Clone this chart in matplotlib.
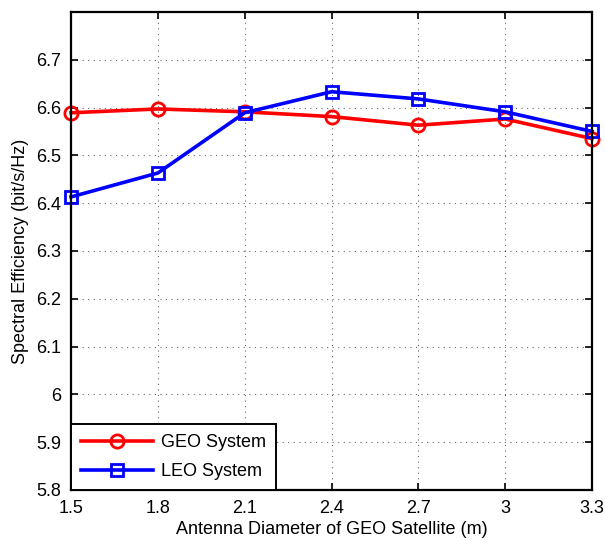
import numpy as np
import matplotlib
matplotlib.use('Agg')
import matplotlib.pyplot as plt

# antenna diameter of the GEO satellite (m)
diameters = [1.5, 1.8, 2.1, 2.4, 2.7, 3.0, 3.3]
# spectral efficiency (bit/s/Hz)
geo_eff = [6.589, 6.597, 6.591, 6.581, 6.563, 6.576, 6.535]
leo_eff = [6.413, 6.463, 6.589, 6.633, 6.618, 6.591, 6.550]

xticks = [1.5, 1.8, 2.1, 2.4, 2.7, 3.0, 3.3]
xticklabels = ['1.5', '1.8', '2.1', '2.4', '2.7', '3', '3.3']
yticks = [5.8, 5.9, 6.0, 6.1, 6.2, 6.3, 6.4, 6.5, 6.6, 6.7]
yticklabels = ['5.8', '5.9', '6', '6.1', '6.2', '6.3', '6.4', '6.5', '6.6', '6.7']

plt.rcParams['font.family'] = ['Liberation Sans', 'DejaVu Sans']
plt.rcParams['font.size'] = 13

fig = plt.figure(figsize=(6.05, 5.41), dpi=100)
ax = fig.add_axes([0.1174, 0.0943, 0.8611, 0.8837])

ax.plot(diameters, geo_eff, color='red', lw=2.6, marker='o', ms=9.5,
        mfc='none', mec='red', mew=2.0, label='GEO System', clip_on=False)
ax.plot(diameters, leo_eff, color='blue', lw=2.6, marker='s', ms=9,
        mfc='none', mec='blue', mew=2.0, label='LEO System', clip_on=False)

ax.set_xlim(1.5, 3.3)
ax.set_ylim(5.8, 6.8)
ax.set_xticks(xticks)
ax.set_xticklabels(xticklabels)
ax.set_yticks(yticks)
ax.set_yticklabels(yticklabels)
ax.grid(True, linestyle=(0, (1, 4)), color='black', lw=0.8, alpha=0.6)
ax.tick_params(direction='in', length=5, width=1.2, top=True, right=True, pad=7)
for s in ax.spines.values():
    s.set_linewidth(1.6)

ax.set_xlabel('Antenna Diameter of GEO Satellite (m)', labelpad=3)
ax.set_ylabel('Spectral Efficiency (bit/s/Hz)', labelpad=5)

leg = ax.legend(loc='lower left', borderaxespad=0, fancybox=False,
                edgecolor='black', framealpha=1, handlelength=4.0,
                handletextpad=0.45, borderpad=0.55, labelspacing=0.65)
leg.get_frame().set_linewidth(1.4)
leg.set_zorder(5)

fig.savefig('out.png', dpi=100)
